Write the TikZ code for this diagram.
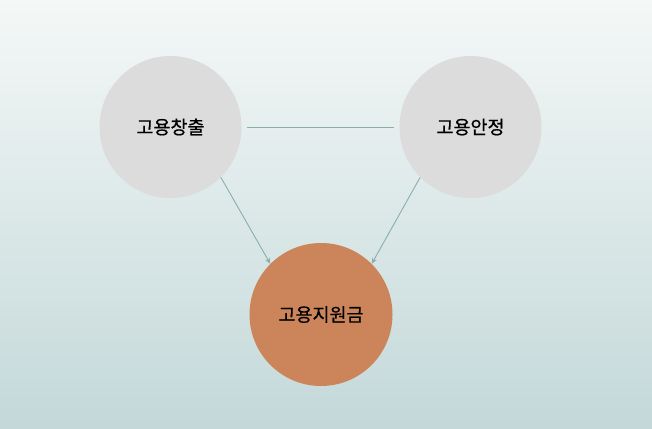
\documentclass[tikz,border=0pt]{standalone}
\usepackage{fontspec}
\newfontfamily\kr{Noto Sans CJK KR}[FakeBold=0.6]
\usepackage{xcolor}
\usetikzlibrary{arrows.meta}
\definecolor{bgtop}{HTML}{F4F8F7}
\definecolor{bgbot}{HTML}{C4D8D9}
\definecolor{circgray}{HTML}{DCDCDC}
\definecolor{circorange}{HTML}{CC855B}
\definecolor{linkcol}{HTML}{8AAEAC}

\begin{document}
\begin{tikzpicture}[x=1pt, y=1pt, ->, >={Stealth[length=6pt,width=5pt]},
    topic/.style={circle, fill=circgray, minimum size=142pt, inner sep=0pt, font=\kr\fontsize{18.5}{20}\selectfont},
    link/.style={draw=linkcol, line width=0.9pt}]

    % Background
    \shade[top color=bgtop, bottom color=bgbot, draw=none] (0,0) rectangle (652,-428);
    \useasboundingbox (0,0) rectangle (652,-428);

    % Nodes
    \node (gc) [topic] at (170.5,-127) {고용창출};
    \node (ga) [topic] at (470.5,-127) {고용안정};
    \node (jw) [topic, fill=circorange, minimum size=143pt] at (321,-314.5) {고용지원금};

    % Links
    \draw[link, -, shorten <=5pt, shorten >=5pt] (gc.east) -- (ga.west);
    \draw[link] (gc.-45) -- (jw.135);
    \draw[link] (ga.-135) -- (jw.45);

\end{tikzpicture}
\end{document}
